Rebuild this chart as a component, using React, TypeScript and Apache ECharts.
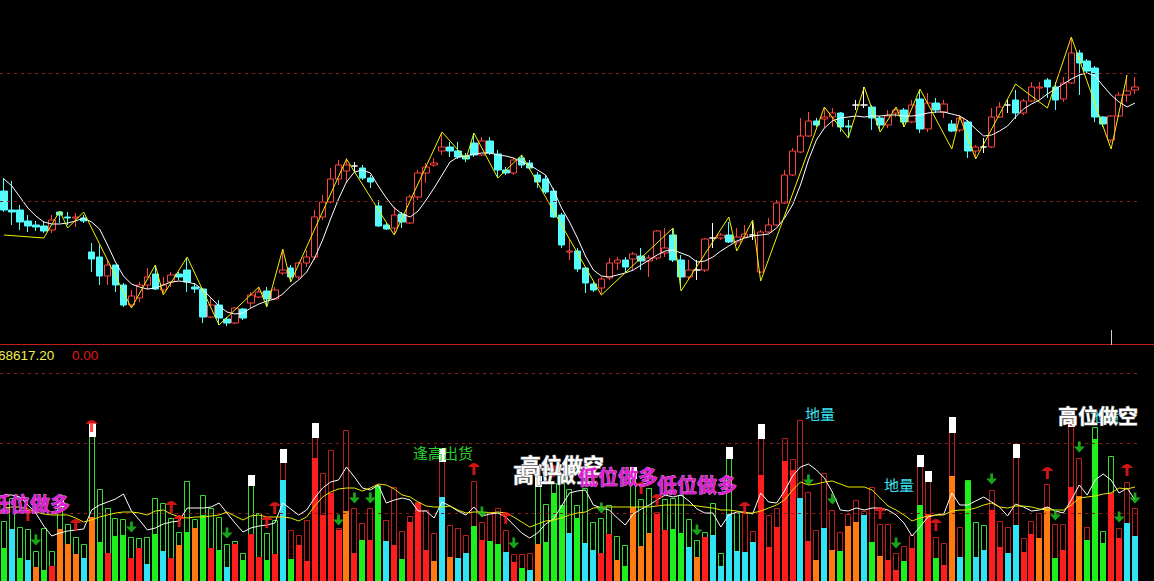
import React, { useEffect, useRef } from "react";
import * as echarts from "echarts";

// ---------- price panel (candles) ----------
const opens = [
  154, 135, 135, 124, 120, 119, 115, 133, 128, 127,
  127, 93, 88, 69, 80, 60, 40, 47, 60, 71,
  55, 63, 71, 75, 58, 56, 28, 40, 26, 22,
  36, 42, 48, 54, 46, 72, 77, 68, 82, 88,
  128, 143, 166, 174, 179, 177, 167, 139, 120, 117,
  131, 122, 148, 172, 180, 194, 198, 194, 189, 202,
  190, 204, 191, 175, 172, 187, 182, 170, 166, 154,
  130, 93, 94, 77, 61, 57, 67, 82, 85, 86,
  89, 84, 87, 92, 110, 85, 68, 75, 75, 107,
  107, 110, 103, 108, 110, 73, 113, 120, 142, 170,
  193, 209, 224, 226, 228, 232, 219, 240, 240, 238,
  227, 220, 232, 235, 223, 246, 216, 242, 233, 221,
  215, 223, 194, 198, 198, 228, 240, 245, 232, 244,
  257, 265, 258, 246, 262, 292, 284, 277, 228, 205,
  229, 250, 255,
];
const closes = [
  135, 133, 123, 119, 118, 114, 125, 130, 127, 128,
  124, 86, 69, 80, 60, 40, 49, 60, 68, 56,
  60, 70, 68, 63, 56, 28, 40, 27, 22, 37,
  27, 50, 53, 46, 55, 75, 68, 82, 88, 128,
  143, 166, 180, 180, 179, 167, 163, 119, 116, 130,
  123, 148, 172, 178, 182, 198, 194, 188, 186, 190,
  204, 192, 175, 172, 185, 180, 177, 163, 153, 128,
  100, 94, 76, 62, 55, 66, 82, 85, 78, 91,
  84, 87, 114, 97, 85, 68, 75, 75, 106, 107,
  110, 103, 108, 111, 110, 113, 120, 142, 170, 194,
  209, 224, 220, 228, 232, 218, 218, 240, 240, 227,
  220, 229, 235, 223, 240, 216, 242, 235, 241, 214,
  227, 194, 198, 198, 228, 238, 240, 232, 244, 258,
  258, 258, 245, 262, 292, 282, 274, 228, 221, 229,
  250, 254, 258,
];
const lows = [
  133, 120, 115, 113, 114, 112, 112, 122, 120, 118,
  122, 73, 60, 60, 53, 38, 37, 43, 55, 55,
  52, 58, 65, 53, 52, 22, 27, 20, 19, 21,
  25, 37, 47, 39, 45, 70, 63, 66, 78, 85,
  125, 142, 160, 162, 173, 165, 157, 118, 115, 110,
  117, 121, 145, 162, 178, 190, 188, 186, 183, 188,
  189, 190, 168, 170, 170, 177, 175, 157, 151, 127,
  97, 85, 73, 52, 53, 50, 65, 75, 73, 75,
  75, 68, 85, 88, 83, 57, 65, 65, 73, 97,
  105, 102, 100, 107, 105, 72, 112, 119, 141, 169,
  192, 208, 218, 217, 218, 213, 207, 235, 237, 215,
  214, 217, 228, 218, 222, 212, 213, 232, 227, 213,
  213, 187, 187, 192, 197, 227, 232, 226, 230, 243,
  245, 247, 235, 243, 261, 250, 272, 223, 218, 202,
  228, 243, 251,
];
const highs = [
  167, 164, 140, 130, 124, 124, 130, 134, 133, 132,
  130, 102, 100, 85, 80, 62, 55, 63, 77, 80,
  68, 73, 73, 87, 62, 57, 48, 45, 28, 38,
  37, 53, 58, 58, 58, 95, 80, 83, 95, 135,
  150, 177, 185, 187, 183, 180, 170, 145, 122, 138,
  133, 150, 175, 182, 187, 212, 203, 203, 192, 212,
  208, 208, 195, 178, 187, 190, 185, 173, 170, 157,
  132, 105, 97, 78, 63, 68, 87, 88, 88, 93,
  97, 90, 115, 117, 117, 90, 85, 85, 107, 122,
  112, 123, 117, 120, 123, 115, 127, 145, 175, 197,
  227, 233, 227, 237, 237, 233, 225, 245, 258, 240,
  229, 235, 237, 237, 245, 255, 252, 247, 245, 225,
  230, 225, 200, 207, 237, 243, 245, 255, 246, 263,
  263, 267, 263, 268, 308, 295, 286, 279, 229, 230,
  253, 270, 268,
];
const maLine = [
  166, 159, 148, 137, 129, 123, 121, 121, 122, 124,
  127, 123, 116, 100, 83, 69, 61, 58, 56, 57,
  60, 63, 64, 63, 61, 55, 47, 39, 33, 31,
  32, 37, 41, 44, 46, 51, 59, 65, 73, 87,
  105, 126, 146, 163, 173, 175, 172, 159, 147, 137,
  131, 128, 134, 145, 157, 170, 183, 188, 189, 191,
  192, 192, 190, 189, 187, 183, 180, 175, 170, 155,
  137, 123, 107, 89, 75, 69, 68, 70, 72, 75,
  80, 85, 90, 94, 95, 92, 89, 83, 84, 88,
  94, 99, 104, 107, 109, 110, 111, 117, 127, 140,
  160, 185, 205, 217, 224, 227, 228, 229, 228, 229,
  229, 230, 230, 229, 229, 230, 232, 233, 233, 231,
  229, 224, 216, 209, 210, 214, 219, 228, 236, 241,
  245, 251, 256, 261, 266, 270, 272, 269, 259, 250,
  243, 238, 242,
];
const zigzagIdx = [0, 5, 7, 8, 10, 16, 19, 20, 23, 27, 32, 33, 35, 36, 43, 49, 55, 58, 59, 62, 65, 75, 84, 85, 91, 92, 94, 95, 103, 106, 108, 110, 112, 113, 115, 119, 120, 122, 127, 131, 134, 139, 141];
const zigzagVal = [110, 107, 134, 117, 133, 37, 80, 50, 88, 20, 58, 38, 96, 63, 186, 110, 213, 186, 212, 167, 190, 50, 117, 54, 128, 94, 125, 64, 238, 207, 258, 213, 238, 218, 256, 196, 228, 186, 261, 237, 308, 196, 270];
const priceLevels = [272, 144];

// ---------- indicator panel ----------
const outerVol = [
  60, 83, 54, 52, 30, 53, 30, 81, 57, 44,
  37, 158, 92, 73, 63, 62, 44, 43, 44, 83,
  78, 63, 49, 100, 62, 86, 73, 64, 37, 40,
  28, 106, 68, 48, 61, 132, 51, 46, 61, 158,
  108, 131, 53, 151, 73, 58, 73, 96, 61, 94,
  50, 65, 79, 71, 48, 133, 56, 53, 46, 100,
  59, 69, 73, 51, 27, 27, 28, 105, 77, 98,
  104, 92, 76, 93, 59, 63, 76, 45, 36, 114,
  82, 93, 69, 82, 83, 86, 62, 41, 49, 78,
  28, 134, 68, 68, 50, 157, 66, 73, 143, 122,
  161, 89, 51, 108, 71, 49, 67, 81, 70, 94,
  57, 57, 28, 35, 46, 126, 110, 44, 38, 164,
  54, 101, 59, 56, 91, 60, 54, 137, 43, 60,
  68, 97, 57, 57, 168, 123, 54, 154, 50, 125,
  53, 99, 73,
];
const innerVol = [
  33, 52, 23, 21, 14, 11, 15, 52, 37, 27,
  23, 64, 39, 28, 45, 46, 23, 33, 17, 47,
  30, 23, 36, 49, 53, 66, 33, 31, 14, 37,
  21, 47, 24, 21, 27, 101, 22, 36, 20, 123,
  66, 88, 51, 70, 28, 41, 41, 95, 40, 36,
  22, 59, 78, 31, 20, 84, 24, 23, 28, 55,
  41, 40, 37, 29, 19, 13, 11, 37, 39, 88,
  76, 48, 63, 38, 31, 28, 47, 21, 15, 74,
  35, 48, 67, 51, 52, 48, 34, 24, 44, 46,
  15, 67, 30, 29, 39, 106, 34, 54, 120, 111,
  83, 40, 21, 53, 31, 30, 55, 59, 66, 39,
  25, 21, 11, 20, 33, 76, 67, 23, 16, 105,
  24, 100, 24, 31, 71, 34, 28, 56, 29, 47,
  43, 74, 23, 31, 94, 85, 41, 142, 38, 88,
  43, 58, 45,
];
// r = red, g = green, c = cyan, o = orange
const innerKindGroups = [
  "gcgcogrooo", "cogrggrrcg", "crogogrgcr", "grrgrcgrrr", "rrrorgrgcr",
  "grrrococcg", "rggcrgcogg", "gcgccrrogo", "oorrggcorc", "cccccrrrrr",
  "crocogoocg", "orrgrgrgro", "cgccrrccrr", "oogrrogggr", "rcc",
];
const outlineRuns: [string, number][] = [
  ["G", 35], ["R", 32], ["G", 15], ["R", 1], ["G", 10],
  ["R", 28], ["G", 3], ["R", 13], ["G", 3], ["R", 3],
];
const capIdx = [7, 11, 31, 35, 39, 55, 67, 79, 91, 95, 115, 116, 119, 127, 134];
const capLow = [74, 144, 95, 118, 143, 119, 94, 102, 122, 142, 114, 99, 148, 123, 154];
const whiteLine = [
  86, 86, 84, 76, 68, 55, 45, 48, 50, 51,
  52, 71, 76, 79, 82, 87, 70, 61, 51, 53,
  57, 59, 60, 73, 73, 73, 74, 78, 68, 58,
  49, 53, 55, 56, 58, 78, 72, 66, 71, 83,
  93, 99, 101, 114, 104, 93, 91, 96, 78, 81,
  83, 81, 70, 70, 63, 79, 75, 70, 66, 74,
  65, 67, 68, 64, 56, 48, 43, 48, 57, 62,
  75, 88, 90, 91, 76, 73, 71, 63, 56, 67,
  72, 76, 81, 86, 84, 86, 80, 72, 68, 68,
  54, 66, 69, 69, 67, 88, 79, 78, 90, 105,
  114, 117, 111, 103, 89, 71, 70, 73, 71, 73,
  73, 71, 66, 58, 45, 54, 64, 66, 67, 88,
  76, 76, 80, 84, 79, 74, 65, 77, 74, 70,
  71, 74, 70, 68, 81, 96, 86, 101, 107, 101,
  88, 93, 81,
];
const yellowLine = [
  73, 74, 74, 72, 69, 67, 66, 66, 66, 63,
  59, 61, 64, 66, 68, 69, 69, 68, 66, 70,
  71, 67, 64, 63, 64, 64, 65, 66, 69, 65,
  61, 65, 66, 64, 64, 64, 63, 60, 64, 75,
  84, 89, 92, 93, 93, 90, 93, 97, 96, 92,
  86, 84, 79, 75, 74, 74, 75, 71, 68, 69,
  69, 68, 69, 68, 64, 59, 54, 57, 60, 61,
  63, 66, 68, 69, 73, 74, 74, 74, 74, 74,
  74, 74, 75, 76, 76, 76, 76, 75, 74, 73,
  71, 71, 70, 68, 68, 70, 73, 76, 81, 91,
  99, 96, 97, 99, 100, 97, 94, 94, 94, 91,
  83, 75, 71, 66, 60, 63, 65, 66, 66, 70,
  71, 71, 73, 76, 78, 74, 73, 75, 75, 74,
  72, 71, 71, 71, 76, 83, 84, 85, 87, 88,
  93, 92, 94,
];
const upArrowIdx = [3, 9, 11, 21, 22, 33, 34, 59, 63, 69, 80, 82, 93, 110, 117, 131, 134, 141];
const upArrowVal = [66, 56, 155, 74, 60, 59, 73, 112, 63, 110, 93, 81, 73, 68, 56, 108, 161, 111];
const downArrowIdx = [4, 16, 28, 42, 44, 46, 60, 64, 75, 87, 101, 104, 112, 124, 132, 135, 140, 142];
const downArrowVal = [41, 54, 48, 61, 83, 83, 69, 38, 73, 51, 101, 82, 38, 102, 66, 134, 64, 83];
const indicatorLevels = [208, 138, 68];

const categories = opens.map((_, i) => String(i + 1));

const FILL: Record<string, string> = { r: "#ff1e1e", g: "#1ef01e", c: "#30e4f4", o: "#ff7a10" };
const OUTLINE: Record<string, string> = { G: "#34dc34", R: "#bc1c1c" };

const UP_ARROW = "path://M0,5 Q6,-2 12,5 L7.5,5 L7.5,12 L4.5,12 L4.5,5 Z";
const DOWN_ARROW = "path://M4.5,0 L7.5,0 L7.5,5 L12,5 L6,11 L0,5 L4.5,5 Z";

export default function App() {
  const ref = useRef<HTMLDivElement>(null);

  useEffect(() => {
    const chart = echarts.init(ref.current as HTMLDivElement, null, { renderer: "svg" });

    const innerKinds = innerKindGroups.join("").split("");
    const outlineKinds: string[] = [];
    outlineRuns.forEach(([k, n]) => {
      for (let j = 0; j < n; j++) outlineKinds.push(k);
    });
    const capMap: Record<number, number> = {};
    capIdx.forEach((ix, j) => {
      capMap[ix] = capLow[j];
    });
    const barData = outerVol.map((v, i) => [i, v, innerVol[i], capMap[i] !== undefined ? capMap[i] : -1]);

    const cjk = '"Noto Sans CJK SC", sans-serif';

    const option: any = {
      animation: false,
      backgroundColor: "#000000",
      grid: [
        { left: -1, width: 1140, top: 0, height: 345 },
        { left: -1, width: 1140, top: 346, height: 235 },
      ],
      xAxis: [
        { type: "category", gridIndex: 0, data: categories, show: false, boundaryGap: true },
        { type: "category", gridIndex: 1, data: categories, show: false, boundaryGap: true },
      ],
      yAxis: [
        { type: "value", gridIndex: 0, min: 0, max: 345, show: false },
        { type: "value", gridIndex: 1, min: 0, max: 235, show: false },
      ],
      series: [
        {
          type: "candlestick",
          xAxisIndex: 0,
          yAxisIndex: 0,
          barWidth: 7,
          data: opens.map((o, i) => [o, closes[i], lows[i], highs[i]]),
          itemStyle: {
            color: "#000000",
            color0: "#54fcfc",
            borderColor: "#ff4242",
            borderColor0: "#54fcfc",
            borderColorDoji: "#ffffff",
            borderWidth: 1,
          },
          z: 2,
        },
        {
          type: "line",
          xAxisIndex: 0,
          yAxisIndex: 0,
          data: maLine,
          symbol: "none",
          lineStyle: { color: "#ffffff", width: 1 },
          z: 3,
          markLine: {
            silent: true,
            symbol: "none",
            label: { show: false },
            lineStyle: { color: "#8c1c1c", type: [3, 4], width: 1 },
            data: priceLevels.map((v) => ({ yAxis: v })),
          },
        },
        {
          type: "line",
          xAxisIndex: 0,
          yAxisIndex: 0,
          data: zigzagIdx.map((ix, j) => [ix, zigzagVal[j]]),
          symbol: "none",
          lineStyle: { color: "#f2f200", width: 1 },
          z: 4,
        },
        {
          type: "custom",
          xAxisIndex: 1,
          yAxisIndex: 1,
          data: barData,
          encode: { x: 0, y: 1 },
          z: 2,
          renderItem: (params: any, api: any) => {
            const i = api.value(0);
            const outer = api.value(1);
            const inner = api.value(2);
            const cap = api.value(3);
            const base = api.coord([i, 0]);
            const top = api.coord([i, outer]);
            const inn = api.coord([i, inner]);
            const w = 6;
            const x0 = Math.round(base[0] - w / 2);
            const children: any[] = [];
            children.push({
              type: "rect",
              shape: { x: x0 + 0.5, y: Math.round(top[1]) + 0.5, width: w - 1, height: base[1] - top[1] + 5 },
              style: { fill: "none", stroke: OUTLINE[outlineKinds[i]], lineWidth: 1 },
            });
            children.push({
              type: "rect",
              shape: { x: x0, y: Math.round(inn[1]), width: w, height: base[1] - inn[1] + 5 },
              style: { fill: FILL[innerKinds[i]] },
            });
            if (cap >= 0) {
              const cp = api.coord([i, cap]);
              children.push({
                type: "rect",
                shape: { x: x0, y: Math.round(top[1]), width: w + 1, height: cp[1] - top[1] },
                style: { fill: "#ffffff" },
              });
            }
            return { type: "group", children };
          },
        },
        {
          type: "line",
          xAxisIndex: 1,
          yAxisIndex: 1,
          data: whiteLine,
          symbol: "none",
          lineStyle: { color: "#ffffff", width: 1 },
          z: 5,
          markLine: {
            silent: true,
            symbol: "none",
            label: { show: false },
            lineStyle: { color: "#8c1c1c", type: [3, 4], width: 1 },
            data: indicatorLevels.map((v) => ({ yAxis: v })),
          },
        },
        {
          type: "line",
          xAxisIndex: 1,
          yAxisIndex: 1,
          data: yellowLine,
          symbol: "none",
          lineStyle: { color: "#e8e800", width: 1 },
          z: 5,
        },
        {
          type: "scatter",
          xAxisIndex: 1,
          yAxisIndex: 1,
          data: upArrowIdx.map((ix, j) => [ix, upArrowVal[j]]),
          symbol: UP_ARROW,
          symbolSize: [12, 12],
          itemStyle: { color: "#ff1a1a" },
          z: 6,
        },
        {
          type: "scatter",
          xAxisIndex: 1,
          yAxisIndex: 1,
          data: downArrowIdx.map((ix, j) => [ix, downArrowVal[j]]),
          symbol: DOWN_ARROW,
          symbolSize: [11, 11],
          itemStyle: { color: "#22cc22" },
          z: 6,
        },
      ],
      graphic: [
        { type: "line", shape: { x1: 0, y1: 344.5, x2: 1154, y2: 344.5 }, style: { stroke: "#c41e1e", lineWidth: 1 }, z: 50 },
        { type: "line", shape: { x1: 1111.5, y1: 330, x2: 1111.5, y2: 345 }, style: { stroke: "#cccccc", lineWidth: 1 }, z: 50 },
        { type: "text", x: -2, y: 355, z: 60, style: { text: "68617.20", fill: "#f0f050", font: '13.5px "Liberation Sans", Arial, sans-serif', verticalAlign: "middle" } },
        { type: "text", x: 72, y: 355, z: 60, style: { text: "0.00", fill: "#e01818", font: '13.5px "Liberation Sans", Arial, sans-serif', verticalAlign: "middle" } },
        { type: "text", x: 413, y: 452, z: 60, style: { text: "逢高出货", fill: "#2cd02c", font: `15px ${cjk}`, verticalAlign: "middle" } },
        { type: "text", x: 513, y: 473, z: 60, style: { text: "高位做空", fill: "#ffffff", stroke: "#777777", lineWidth: 1, font: `bold 21px ${cjk}`, verticalAlign: "middle" } },
        { type: "text", x: 520, y: 464, z: 61, style: { text: "高位做空", fill: "#ffffff", stroke: "#777777", lineWidth: 1, font: `bold 21px ${cjk}`, verticalAlign: "middle" } },
        { type: "text", x: -10, y: 503, z: 60, style: { text: "低位做多", fill: "#e01ed4", stroke: "#f0b0f0", lineWidth: 0.6, font: `bold 20px ${cjk}`, verticalAlign: "middle" } },
        { type: "text", x: 578, y: 476, z: 62, style: { text: "低位做多", fill: "#e01ed4", stroke: "#f0b0f0", lineWidth: 0.6, font: `bold 20px ${cjk}`, verticalAlign: "middle" } },
        { type: "text", x: 657, y: 484, z: 62, style: { text: "低位做多", fill: "#e01ed4", stroke: "#f0b0f0", lineWidth: 0.6, font: `bold 20px ${cjk}`, verticalAlign: "middle" } },
        { type: "text", x: 805, y: 413, z: 60, style: { text: "地量", fill: "#3ce0f0", font: `15px ${cjk}`, verticalAlign: "middle" } },
        { type: "text", x: 884, y: 484, z: 60, style: { text: "地量", fill: "#3ce0f0", font: `15px ${cjk}`, verticalAlign: "middle" } },
        { type: "text", x: 1090, y: 415, z: 60, style: { text: "地量", fill: "#3ce0f0", font: `15px ${cjk}`, verticalAlign: "middle" } },
        { type: "text", x: 1058, y: 415, z: 61, style: { text: "高位做空", fill: "#ffffff", stroke: "#777777", lineWidth: 1, font: `bold 20px ${cjk}`, verticalAlign: "middle" } },
      ],
    };

    chart.setOption(option);
    return () => {
      chart.dispose();
    };
  }, []);

  return (
    <div
      ref={ref}
      style={{ position: "fixed", left: 0, top: 0, width: 1154, height: 581, background: "#000000" }}
    />
  );
}
